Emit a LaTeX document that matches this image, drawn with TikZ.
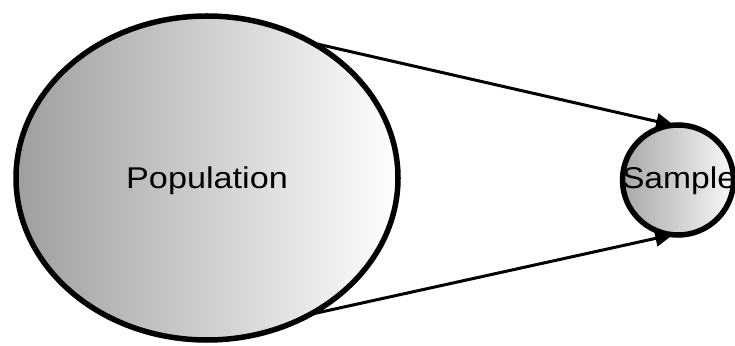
\documentclass[tikz,border=0pt]{standalone}
\usepackage{fontspec}
\setmainfont{Liberation Sans}
\usetikzlibrary{shapes.geometric,arrows.meta}
\begin{document}
\begin{tikzpicture}[x=1pt,y=1pt,
  blob/.style={ellipse, draw=black, line width=5.5pt, inner sep=0pt, outer sep=0pt, shading=axis},
  lbl/.style={anchor=base, inner sep=0pt, font=\fontsize{30}{35}\selectfont},
  conn/.style={line width=3pt, -{Triangle[length=18pt,width=16pt]}, shorten >=-1pt}
]
\useasboundingbox (0,0) rectangle (735,345);
\node[blob, minimum width=382pt, minimum height=324pt, left color=black!38, right color=white] (pop) at (207,167) {};
\node[blob, minimum width=111pt, minimum height=110pt, left color=black!34, right color=black!3] (samp) at (678,165) {};
\node[lbl] (poptext) at ([yshift=-11pt]pop.center) {\scalebox{1.14}[1]{Population}};
\node[lbl] (samptext) at ([xshift=1pt,yshift=-9pt]samp.center) {\scalebox{1.12}[1]{Sample}};
\draw[conn] (pop.52.7) -- (samp.95);
\draw[conn] (pop.-53.4) -- (samp.-96);
\end{tikzpicture}
\end{document}
